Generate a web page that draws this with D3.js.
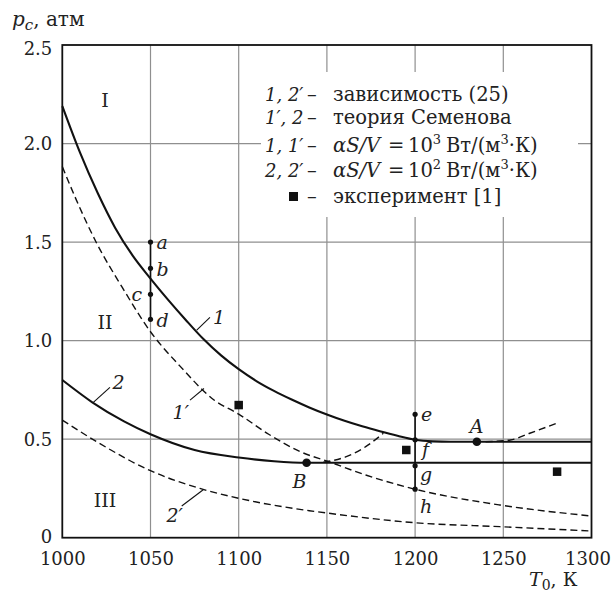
<!DOCTYPE html>
<html>
<head>
<meta charset="utf-8">
<script src="https://cdn.jsdelivr.net/npm/d3@7"></script>
<style>
  html, body { margin: 0; padding: 0; background: #fff; }
</style>
</head>
<body>
<svg id="chart" width="613" height="592"></svg>
<script>
// Temperature axis (K) and pressure axis (atm)
const xTicks = [1000, 1050, 1100, 1150, 1200, 1250, 1300];
const yTicks = [0, 0.5, 1.0, 1.5, 2.0, 2.5];
const yTickLabels = ["0", "0.5", "1.0", "1.5", "2.0", "2.5"];

// Curve 1 (solid): dependence (25), αS/V = 10^3
const curve1T = [1000, 1010, 1020, 1030, 1040, 1050, 1060, 1070, 1080, 1090, 1100, 1110, 1120, 1130, 1140, 1150, 1160, 1170, 1180, 1190, 1200, 1210, 1220, 1300];
const curve1P = [2.19, 1.955, 1.75, 1.572, 1.43, 1.315, 1.207, 1.105, 1.008, 0.925, 0.855, 0.795, 0.745, 0.701, 0.661, 0.625, 0.593, 0.565, 0.54, 0.517, 0.497, 0.489, 0.487, 0.487];

// Curve 2 (solid): Semenov theory, αS/V = 10^2
const curve2T = [1000, 1017, 1035, 1050, 1075, 1100, 1120, 1138.5, 1300];
const curve2P = [0.80, 0.687, 0.59, 0.525, 0.445, 0.407, 0.388, 0.38, 0.38];

// Curve 1' (dashed): Semenov theory, αS/V = 10^3
const curve1pT = [1000, 1008, 1019.5, 1034, 1050, 1067, 1086, 1100, 1117, 1135, 1151, 1172, 1200, 1248, 1300];
const curve1pP = [1.883, 1.713, 1.494, 1.27, 1.045, 0.868, 0.699, 0.627, 0.525, 0.436, 0.386, 0.318, 0.246, 0.166, 0.11];

// Curve 2' (dashed): dependence (25), αS/V = 10^2
const curve2pT = [1000, 1021, 1050, 1078, 1100, 1140, 1151, 1200, 1248, 1300];
const curve2pP = [0.597, 0.479, 0.34, 0.25, 0.2, 0.137, 0.124, 0.076, 0.056, 0.034];

// Rising dashed branches
const riseAT = [1148, 1161, 1172, 1182];
const riseAP = [0.383, 0.411, 0.462, 0.53];
const riseBT = [1240, 1254, 1265, 1280];
const riseBP = [0.487, 0.496, 0.53, 0.58];

// Sample points along T0 = 1050 K and T0 = 1200 K
const pointsLeftNames = ["a", "b", "c", "d"];
const pointsLeftP = [1.5, 1.367, 1.235, 1.108];
const pointsLeftT = 1050;
const pointsRightNames = ["e", "f", "g", "h"];
const pointsRightP = [0.626, 0.497, 0.365, 0.246];
const pointsRightT = 1200;

// Special points A and B
const bigNames = ["A", "B"];
const bigT = [1235, 1138.5];
const bigP = [0.487, 0.38];

// Experiment [1]
const expT = [1100, 1195, 1280.5];
const expP = [0.673, 0.445, 0.335];

const FONT = "'DejaVu Serif', 'Liberation Serif', serif";
const FS = 18;
const svg = d3.select("#chart").attr("font-family", FONT);
const x = d3.scaleLinear().domain([1000, 1300]).range([62.3, 591.5]);
const y = d3.scaleLinear().domain([0, 2.5]).range([537.7, 45]);

const zip = (ts, ps) => ts.map((t, i) => [t, ps[i]]);
const line = d3.line().x(d => x(d[0])).y(d => y(d[1])).curve(d3.curveMonotoneX);

// Grid
const grid = svg.append("g").attr("stroke", "#8f8f8f").attr("stroke-width", 1.2);
grid.selectAll("line.v").data(xTicks.slice(1, -1)).join("line")
  .attr("x1", d => x(d)).attr("x2", d => x(d))
  .attr("y1", y(0)).attr("y2", y(2.5));
grid.selectAll("line.h").data(yTicks.slice(1, -1)).join("line")
  .attr("x1", x(1000)).attr("x2", x(1300))
  .attr("y1", d => y(d)).attr("y2", d => y(d));

// Legend panel covers the grid
svg.append("rect").attr("x", 261).attr("y", 72).attr("width", 317).attr("height", 145).attr("fill", "#fff");

// Tick labels via d3 axes
const yAxis = d3.axisLeft(y).tickValues(yTicks).tickFormat((d, i) => yTickLabels[i]).tickSize(0).tickPadding(10);
const gy = svg.append("g").attr("transform", `translate(${x(1000)},0)`).call(yAxis)
  .attr("font-family", FONT).attr("font-size", FS);
gy.select(".domain").remove();
gy.selectAll("text").attr("fill", "#222")
  .attr("dy", d => d === 2.5 ? "0.5em" : (d === 0 ? "0.25em" : "0.33em"));

const xAxis = d3.axisBottom(x).tickValues(xTicks).tickFormat(d3.format("d")).tickSize(0).tickPadding(15);
const gx = svg.append("g").attr("transform", `translate(0,${y(0)})`).call(xAxis)
  .attr("font-family", FONT).attr("font-size", FS);
gx.select(".domain").remove();
gx.selectAll("text").attr("fill", "#222").attr("dx", d => d === 1300 ? -4 : 0);

// Frame
svg.append("rect").attr("x", x(1000)).attr("y", y(2.5))
  .attr("width", x(1300) - x(1000)).attr("height", y(0) - y(2.5))
  .attr("fill", "none").attr("stroke", "#111").attr("stroke-width", 1.8);

// Curves
const solid = svg.append("g").attr("fill", "none").attr("stroke", "#111").attr("stroke-width", 2.1);
solid.append("path").attr("d", line(zip(curve1T, curve1P)));
solid.append("path").attr("d", line(zip(curve2T, curve2P)));

const dashed = svg.append("g").attr("fill", "none").attr("stroke", "#111").attr("stroke-width", 1.4)
  .attr("stroke-dasharray", "7,4");
dashed.append("path").attr("d", line(zip(curve1pT, curve1pP)));
dashed.append("path").attr("d", line(zip(curve2pT, curve2pP)));
dashed.append("path").attr("d", line(zip(riseAT, riseAP)));
dashed.append("path").attr("d", line(zip(riseBT, riseBP)));

// Vertical segments through sample points
const segs = svg.append("g").attr("stroke", "#111").attr("stroke-width", 1.6);
segs.append("line").attr("x1", x(pointsLeftT)).attr("x2", x(pointsLeftT))
  .attr("y1", y(d3.max(pointsLeftP))).attr("y2", y(d3.min(pointsLeftP)));
segs.append("line").attr("x1", x(pointsRightT)).attr("x2", x(pointsRightT))
  .attr("y1", y(d3.max(pointsRightP))).attr("y2", y(d3.min(pointsRightP)));

const small = svg.append("g").attr("fill", "#111");
small.selectAll("circle.l").data(pointsLeftP).join("circle")
  .attr("cx", x(pointsLeftT)).attr("cy", d => y(d)).attr("r", 2.6);
small.selectAll("circle.r").data(pointsRightP).join("circle")
  .attr("cx", x(pointsRightT)).attr("cy", d => y(d)).attr("r", 2.6);

// Point letters
const italic = { "font-style": "italic", "font-size": 19, "fill": "#222" };
function applyStyle(sel, st) { for (const k in st) sel.attr(k, st[k]); return sel; }
const leftOff = [[6, 7], [6, 8], [-19, 7], [6, 8]];
pointsLeftNames.forEach((n, i) => {
  applyStyle(svg.append("text"), italic).attr("x", x(pointsLeftT) + leftOff[i][0]).attr("y", y(pointsLeftP[i]) + leftOff[i][1]).text(n);
});
const rightOff = [[6, 7], [7, 16], [5, 15], [5, 24]];
pointsRightNames.forEach((n, i) => {
  applyStyle(svg.append("text"), italic).attr("x", x(pointsRightT) + rightOff[i][0]).attr("y", y(pointsRightP[i]) + rightOff[i][1]).text(n);
});

// A and B
svg.append("g").selectAll("circle").data(bigT).join("circle")
  .attr("cx", d => x(d)).attr("cy", (d, i) => y(bigP[i])).attr("r", 4.3).attr("fill", "#111");
const bigOff = [[-7, -9], [-14, 25]];
bigNames.forEach((n, i) => {
  applyStyle(svg.append("text"), italic).attr("x", x(bigT[i]) + bigOff[i][0]).attr("y", y(bigP[i]) + bigOff[i][1]).text(n);
});

// Experiment squares
const sq = 8.5;
svg.append("g").selectAll("rect").data(expT).join("rect")
  .attr("x", d => x(d) - sq / 2).attr("y", (d, i) => y(expP[i]) - sq / 2)
  .attr("width", sq).attr("height", sq).attr("fill", "#111");

// Curve labels with leaders
const leaders = [
  { name: "1", from: [1076.2, 1.053], to: [1083.7, 1.118], at: [1085.5, 1.085], prime: false },
  { name: "1", from: [1072.4, 0.698], to: [1080.3, 0.757], at: [1062.5, 0.6], prime: true },
  { name: "2", from: [1017.6, 0.687], to: [1027, 0.763], at: [1028.5, 0.755], prime: false },
  { name: "2", from: [1067.7, 0.161], to: [1079.9, 0.243], at: [1059, 0.08], prime: true }
];
const lg = svg.append("g").attr("stroke", "#111").attr("stroke-width", 1.1);
leaders.forEach(l => {
  lg.append("line").attr("x1", x(l.from[0])).attr("y1", y(l.from[1])).attr("x2", x(l.to[0])).attr("y2", y(l.to[1]));
  applyStyle(svg.append("text"), italic).attr("x", x(l.at[0])).attr("y", y(l.at[1])).text(l.name + (l.prime ? "′" : ""));
});

// Region numbers
const regions = [["I", 1024.2, 2.22], ["II", 1024.2, 1.096], ["III", 1024.2, 0.19]];
regions.forEach(r => {
  svg.append("text").attr("x", x(r[1])).attr("y", y(r[2]) + 7).attr("text-anchor", "middle")
    .attr("font-size", 19).attr("fill", "#222").text(r[0]);
});

// Axis titles
const yt = svg.append("text").attr("x", 12).attr("y", 26).attr("font-size", 20).attr("fill", "#222");
yt.append("tspan").attr("font-style", "italic").text("p");
yt.append("tspan").attr("font-style", "italic").attr("font-size", 15).attr("dy", 4).text("c");
yt.append("tspan").attr("dy", -4).text(", атм");

const xt = svg.append("text").attr("x", 529).attr("y", 586).attr("font-size", 19).attr("fill", "#222");
xt.append("tspan").attr("font-style", "italic").text("T");
xt.append("tspan").attr("font-size", 14).attr("dy", 4).text("0");
xt.append("tspan").attr("dy", -4).text(", К");

// Legend
const legendLabels = ["1, 2′", "1′, 2", "1, 1′", "2, 2′"];
const legendBase = [101, 124, 152, 177, 203];
const lgd = svg.append("g").attr("font-size", 19.5).attr("fill", "#222");
legendLabels.forEach((t, i) => {
  lgd.append("text").attr("x", 265).attr("y", legendBase[i]).attr("font-style", "italic").attr("font-size", 18).text(t);
  lgd.append("text").attr("x", 307).attr("y", legendBase[i]).text("–");
});
lgd.append("text").attr("x", 333).attr("y", legendBase[0]).text("зависимость (25)");
lgd.append("text").attr("x", 333).attr("y", legendBase[1]).text("теория Семенова");
[["3", 2], ["2", 3]].forEach(([pw, i]) => {
  const t = lgd.append("text").attr("x", 333).attr("y", legendBase[i]);
  t.append("tspan").attr("font-style", "italic").text("αS/V");
  t.append("tspan").attr("x", 388).text("=");
  t.append("tspan").attr("x", 408).text("10");
  t.append("tspan").attr("font-size", 13).attr("dy", -8).text(pw);
  t.append("tspan").attr("x", 446).attr("dy", 8).text("Вт/(м");
  t.append("tspan").attr("font-size", 13).attr("dy", -8).text("3");
  t.append("tspan").attr("dy", 8).text("·К)");
});
lgd.append("rect").attr("x", 289).attr("y", legendBase[4] - 11).attr("width", 9).attr("height", 9).attr("fill", "#111");
lgd.append("text").attr("x", 307).attr("y", legendBase[4]).text("–");
lgd.append("text").attr("x", 333).attr("y", legendBase[4]).text("эксперимент [1]");
</script>
</body>
</html>
